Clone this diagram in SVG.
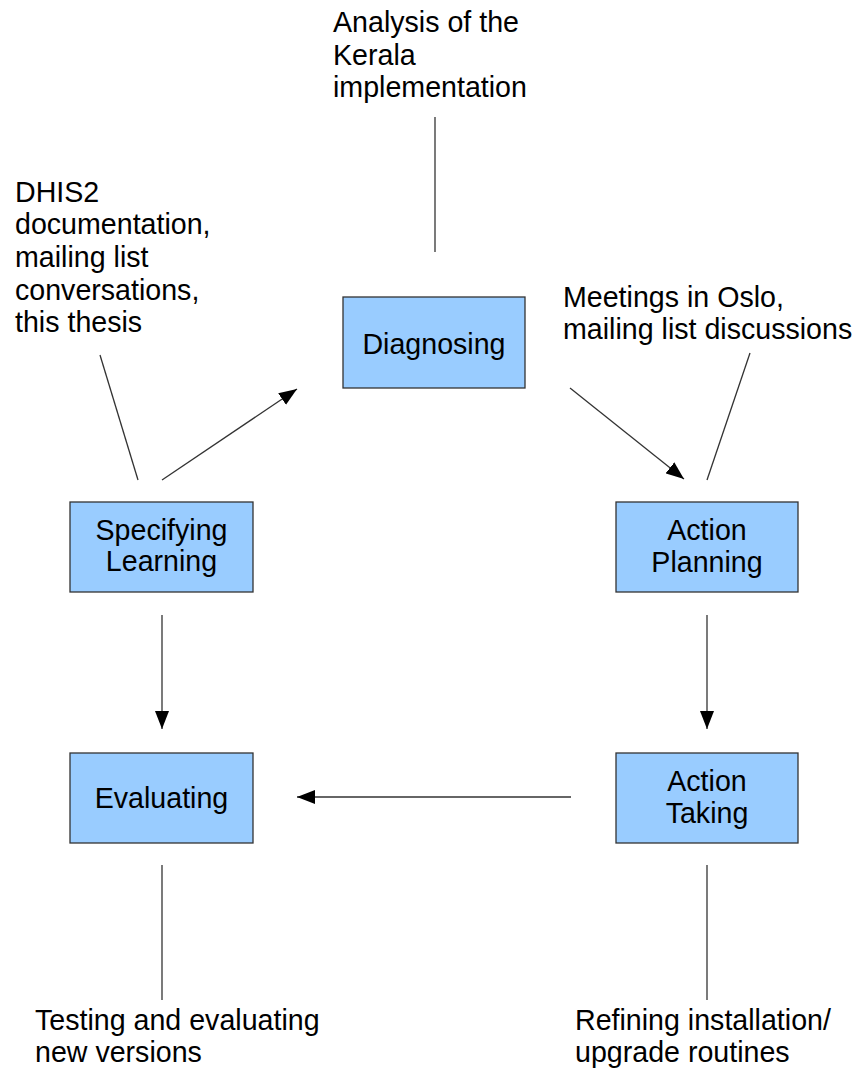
<svg xmlns="http://www.w3.org/2000/svg" width="858" height="1073" viewBox="0 0 858 1073">
<style>
.box{fill:#99ccff;stroke:#333333;stroke-width:1.3}
.t{font-family:"Liberation Sans",Arial,sans-serif;font-size:28.6px;fill:#000}
.c{text-anchor:middle}
.ln{stroke:#333333;stroke-width:1.3;fill:none}
</style>
<defs>
<marker id="ah" markerUnits="userSpaceOnUse" markerWidth="20" markerHeight="14" refX="18" refY="7" orient="auto">
<path d="M0,0 L18,7 L0,14 z" fill="#000"/>
</marker>
</defs>
<rect width="858" height="1073" fill="#ffffff"/>

<g id="connectors">
<line class="ln" x1="162" y1="480" x2="297" y2="389" marker-end="url(#ah)"/>
<line class="ln" x1="570" y1="388" x2="684" y2="479" marker-end="url(#ah)"/>
<line class="ln" x1="707" y1="615" x2="707" y2="729" marker-end="url(#ah)"/>
<line class="ln" x1="162" y1="615" x2="162" y2="729" marker-end="url(#ah)"/>
<line class="ln" x1="571" y1="797" x2="297" y2="797" marker-end="url(#ah)"/>
<line class="ln" x1="435" y1="117" x2="435" y2="252"/>
<line class="ln" x1="100" y1="355" x2="138" y2="480"/>
<line class="ln" x1="750" y1="353" x2="707" y2="480"/>
<line class="ln" x1="162" y1="865" x2="162" y2="1000"/>
<line class="ln" x1="707" y1="865" x2="707" y2="1000"/>
</g>

<g id="diagnosing">
<rect class="box" x="343" y="297" width="182" height="91"/>
<text class="t c" x="434" y="354">Diagnosing</text>
</g>
<g id="specifying-learning">
<rect class="box" x="70" y="502" width="183" height="90"/>
<text class="t c" x="161.5" y="540">Specifying</text>
<text class="t c" x="161.5" y="571">Learning</text>
</g>
<g id="action-planning">
<rect class="box" x="616" y="502" width="182" height="90"/>
<text class="t c" x="707" y="540">Action</text>
<text class="t c" x="707" y="572">Planning</text>
</g>
<g id="evaluating">
<rect class="box" x="70" y="753" width="183" height="90"/>
<text class="t c" x="161.5" y="808">Evaluating</text>
</g>
<g id="action-taking">
<rect class="box" x="616" y="753" width="182" height="90"/>
<text class="t c" x="707" y="791">Action</text>
<text class="t c" x="707" y="823">Taking</text>
</g>

<g id="note-analysis">
<text class="t" x="333" y="32">Analysis of the</text>
<text class="t" x="333" y="65">Kerala</text>
<text class="t" x="333" y="97">implementation</text>
</g>
<g id="note-dhis2">
<text class="t" x="15" y="202">DHIS2</text>
<text class="t" x="15" y="234">documentation,</text>
<text class="t" x="15" y="267">mailing list</text>
<text class="t" x="15" y="300">conversations,</text>
<text class="t" x="15" y="332">this thesis</text>
</g>
<g id="note-meetings">
<text class="t" x="563" y="307">Meetings in Oslo,</text>
<text class="t" x="563" y="339">mailing list discussions</text>
</g>
<g id="note-testing">
<text class="t" x="35" y="1030">Testing and evaluating</text>
<text class="t" x="35" y="1062">new versions</text>
</g>
<g id="note-refining">
<text class="t" x="575" y="1030">Refining installation/</text>
<text class="t" x="575" y="1062">upgrade routines</text>
</g>
</svg>
